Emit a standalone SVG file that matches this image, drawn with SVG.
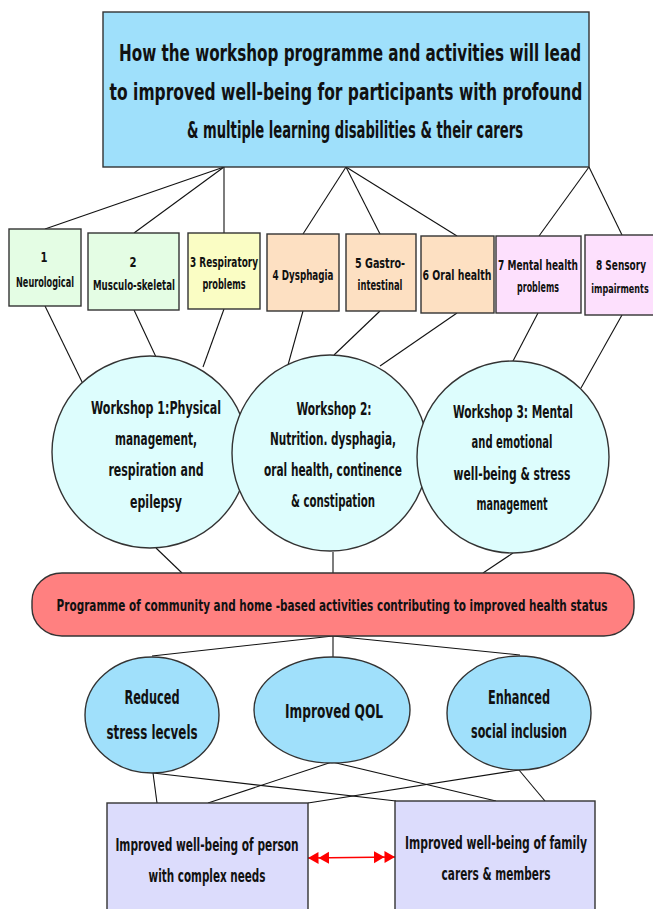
<svg xmlns="http://www.w3.org/2000/svg" width="653" height="909" viewBox="0 0 653 909">
<style>
text{font-family:"DejaVu Sans Condensed","DejaVu Sans",sans-serif;font-weight:bold;fill:#111;text-anchor:middle}
.bx{stroke:#333;stroke-width:1.4}
.c{stroke:#111;stroke-width:1.1;fill:none}
.t1{font-size:23px}
.t2{font-size:14px}
.t3{font-size:17px}
.t4{font-size:20px}
.green{fill:#e4fde4}
.yel{fill:#fafdc4}
.peach{fill:#fde0c2}
.pink{fill:#fde0fd}
.ws{fill:#ddfdfd}
.oc{fill:#a0e0fb}
.lav{fill:#dcdcfc}
</style>
<defs>
<marker id="dbl" markerUnits="userSpaceOnUse" markerWidth="22" markerHeight="14" viewBox="0 0 22 14" refX="21" refY="7" orient="auto-start-reverse">
<path d="M0,1 L10.5,7 L0,13 Z M10.5,1 L21,7 L10.5,13 Z" fill="#ff0000"/>
</marker>
</defs>
<rect width="653" height="909" fill="#fff"/>
<g id="connectors" class="c">
<line x1="224" y1="167" x2="45" y2="229"/>
<line x1="224" y1="167" x2="134" y2="233"/>
<line x1="224" y1="167" x2="224" y2="233"/>
<line x1="346" y1="167" x2="303" y2="234"/>
<line x1="346" y1="167" x2="380" y2="234"/>
<line x1="346" y1="167" x2="457" y2="236"/>
<line x1="589" y1="167" x2="539" y2="236"/>
<line x1="589" y1="167" x2="622" y2="235"/>
<line x1="45" y1="306" x2="83" y2="384"/>
<line x1="134" y1="310" x2="156" y2="357"/>
<line x1="224" y1="309" x2="203" y2="367"/>
<line x1="303" y1="311" x2="288" y2="365"/>
<line x1="380" y1="311" x2="334" y2="355"/>
<line x1="457" y1="313" x2="380" y2="366"/>
<line x1="538" y1="313" x2="513" y2="361"/>
<line x1="622" y1="315" x2="581" y2="388"/>
<line x1="156" y1="548" x2="182" y2="573"/>
<line x1="333" y1="552" x2="333" y2="573"/>
<line x1="513" y1="553" x2="483" y2="573"/>
<line x1="333" y1="636" x2="152" y2="656"/>
<line x1="333" y1="636" x2="333" y2="657"/>
<line x1="333" y1="636" x2="520" y2="655"/>
<line x1="153" y1="773" x2="157" y2="803"/>
<line x1="153" y1="773" x2="396" y2="801"/>
<line x1="332" y1="762" x2="208" y2="803"/>
<line x1="332" y1="762" x2="496" y2="801"/>
<line x1="519" y1="770" x2="308" y2="803"/>
<line x1="519" y1="770" x2="545" y2="801"/>
<line x1="308" y1="858" x2="395" y2="857" stroke="#ff0000" stroke-width="1.3" marker-start="url(#dbl)" marker-end="url(#dbl)"/>
</g>
<g id="title">
<rect class="bx" x="103" y="12" width="486" height="155" fill="#9fe0fb"/>
<text class="t1" transform="matrix(0.8,0,0,1,350,61)" textLength="577.5" lengthAdjust="spacingAndGlyphs">How the workshop programme and activities will lead</text>
<text class="t1" transform="matrix(0.8,0,0,1,346,100)" textLength="591" lengthAdjust="spacingAndGlyphs">to improved well-being for participants with profound</text>
<text class="t1" transform="matrix(0.8,0,0,1,355,138)" textLength="420" lengthAdjust="spacingAndGlyphs">&amp; multiple learning disabilities &amp; their carers</text>
</g>
<g id="cat1">
<rect class="bx green" x="9" y="229" width="72" height="77"/>
<text class="t2" transform="matrix(0.8,0,0,1,44,262)">1</text>
<text class="t2" transform="matrix(0.8,0,0,1,45,287)" textLength="72.5" lengthAdjust="spacingAndGlyphs">Neurological</text>
</g>
<g id="cat2">
<rect class="bx green" x="88" y="233" width="91" height="77"/>
<text class="t2" transform="matrix(0.8,0,0,1,133,267)">2</text>
<text class="t2" transform="matrix(0.8,0,0,1,134,290)" textLength="102.5" lengthAdjust="spacingAndGlyphs">Musculo-skeletal</text>
</g>
<g id="cat3">
<rect class="bx yel" x="188" y="233" width="72" height="76"/>
<text class="t2" transform="matrix(0.8,0,0,1,224,267)" textLength="85" lengthAdjust="spacingAndGlyphs">3 Respiratory</text>
<text class="t2" transform="matrix(0.8,0,0,1,224,289)" textLength="54" lengthAdjust="spacingAndGlyphs">problems</text>
</g>
<g id="cat4">
<rect class="bx peach" x="267" y="234" width="72" height="77"/>
<text class="t2" transform="matrix(0.8,0,0,1,303,280)" textLength="76" lengthAdjust="spacingAndGlyphs">4 Dysphagia</text>
</g>
<g id="cat5">
<rect class="bx peach" x="346" y="234" width="70" height="77"/>
<text class="t2" transform="matrix(0.8,0,0,1,380,268)" textLength="62.5" lengthAdjust="spacingAndGlyphs">5 Gastro-</text>
<text class="t2" transform="matrix(0.8,0,0,1,380,290)" textLength="56" lengthAdjust="spacingAndGlyphs">intestinal</text>
</g>
<g id="cat6">
<rect class="bx peach" x="421" y="236" width="73" height="77"/>
<text class="t2" transform="matrix(0.8,0,0,1,457,280)" textLength="86" lengthAdjust="spacingAndGlyphs">6 Oral health</text>
</g>
<g id="cat7">
<rect class="bx pink" x="496" y="236" width="85" height="77"/>
<text class="t2" transform="matrix(0.8,0,0,1,538,270)" textLength="100" lengthAdjust="spacingAndGlyphs">7 Mental health</text>
<text class="t2" transform="matrix(0.8,0,0,1,538,292)" textLength="52.5" lengthAdjust="spacingAndGlyphs">problems</text>
</g>
<g id="cat8">
<rect class="bx pink" x="585" y="235" width="72" height="80"/>
<text class="t2" transform="matrix(0.8,0,0,1,621,270)" textLength="62.5" lengthAdjust="spacingAndGlyphs">8 Sensory</text>
<text style="font-size:13px" transform="matrix(0.7,0,0,1,620,293)" textLength="82" lengthAdjust="spacingAndGlyphs">impairments</text>
</g>
<g id="ws1">
<ellipse class="bx ws" cx="150" cy="452" rx="98" ry="96"/>
<text class="t3" transform="matrix(0.8,0,0,1,156,414)" textLength="162.5" lengthAdjust="spacingAndGlyphs">Workshop 1:Physical</text>
<text class="t3" transform="matrix(0.8,0,0,1,156,445)" textLength="102.5" lengthAdjust="spacingAndGlyphs">management,</text>
<text class="t3" transform="matrix(0.8,0,0,1,156,476)" textLength="119" lengthAdjust="spacingAndGlyphs">respiration and</text>
<text class="t3" transform="matrix(0.8,0,0,1,156,508)" textLength="65" lengthAdjust="spacingAndGlyphs">epilepsy</text>
</g>
<g id="ws2">
<ellipse class="bx ws" cx="330" cy="453" rx="98" ry="98"/>
<text class="t3" transform="matrix(0.8,0,0,1,334,415)" textLength="94" lengthAdjust="spacingAndGlyphs">Workshop 2:</text>
<text class="t3" transform="matrix(0.8,0,0,1,333,445)" textLength="157.5" lengthAdjust="spacingAndGlyphs">Nutrition. dysphagia,</text>
<text class="t3" transform="matrix(0.8,0,0,1,333,476)" textLength="172.5" lengthAdjust="spacingAndGlyphs">oral health, continence</text>
<text class="t3" transform="matrix(0.8,0,0,1,333,507)" textLength="105" lengthAdjust="spacingAndGlyphs">&amp; constipation</text>
</g>
<g id="ws3">
<ellipse class="bx ws" cx="513" cy="457" rx="96" ry="96"/>
<text class="t3" transform="matrix(0.8,0,0,1,513,418)" textLength="150" lengthAdjust="spacingAndGlyphs">Workshop 3: Mental</text>
<text class="t3" transform="matrix(0.8,0,0,1,512,448)" textLength="101" lengthAdjust="spacingAndGlyphs">and emotional</text>
<text class="t3" transform="matrix(0.8,0,0,1,512,480)" textLength="146" lengthAdjust="spacingAndGlyphs">well-being &amp; stress</text>
<text class="t3" transform="matrix(0.8,0,0,1,512,510)" textLength="89" lengthAdjust="spacingAndGlyphs">management</text>
</g>
<g id="programme">
<rect class="bx" x="32" y="573" width="602" height="63" rx="30" ry="28" fill="#ff8080"/>
<text style="font-size:16px" transform="matrix(0.72,0,0,1,332,611)" textLength="765" lengthAdjust="spacingAndGlyphs">Programme of community and home -based activities contributing to improved health status</text>
</g>
<g id="out1">
<ellipse class="bx oc" cx="152" cy="715" rx="67" ry="58"/>
<text class="t4" transform="matrix(0.8,0,0,1,152,704)" textLength="69" lengthAdjust="spacingAndGlyphs">Reduced</text>
<text class="t4" transform="matrix(0.8,0,0,1,152,739)" textLength="114" lengthAdjust="spacingAndGlyphs">stress lecvels</text>
</g>
<g id="out2">
<ellipse class="bx oc" cx="332" cy="710" rx="78" ry="53"/>
<text class="t4" transform="matrix(0.8,0,0,1,334,718)" textLength="122.5" lengthAdjust="spacingAndGlyphs">Improved QOL</text>
</g>
<g id="out3">
<ellipse class="bx oc" cx="519" cy="713" rx="72" ry="57"/>
<text class="t4" transform="matrix(0.8,0,0,1,519,704)" textLength="77.5" lengthAdjust="spacingAndGlyphs">Enhanced</text>
<text class="t4" transform="matrix(0.8,0,0,1,519,738)" textLength="120" lengthAdjust="spacingAndGlyphs">social inclusion</text>
</g>
<g id="person">
<rect class="bx lav" x="107" y="803" width="201" height="110"/>
<text class="t3" transform="matrix(0.8,0,0,1,207,851)" textLength="229" lengthAdjust="spacingAndGlyphs">Improved well-being of person</text>
<text class="t3" transform="matrix(0.8,0,0,1,207,882)" textLength="146" lengthAdjust="spacingAndGlyphs">with complex needs</text>
</g>
<g id="family">
<rect class="bx lav" x="395" y="801" width="200" height="112"/>
<text class="t3" transform="matrix(0.8,0,0,1,496,849)" textLength="227.5" lengthAdjust="spacingAndGlyphs">Improved well-being of family</text>
<text class="t3" transform="matrix(0.8,0,0,1,496,880)" textLength="136" lengthAdjust="spacingAndGlyphs">carers &amp; members</text>
</g>
</svg>
